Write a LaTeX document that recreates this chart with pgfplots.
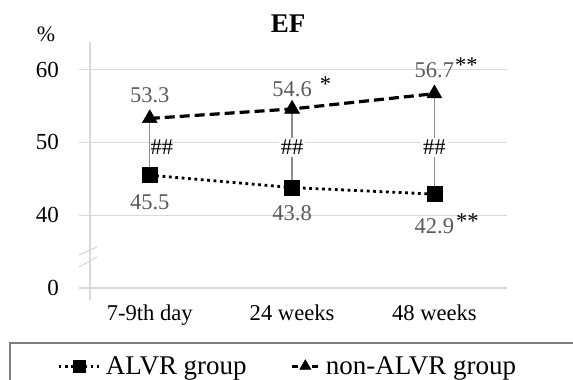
\documentclass[border=0pt]{standalone}
\usepackage{pgfplots}
\pgfplotsset{compat=1.18}
\usepackage{fontspec}
\setmainfont{Liberation Serif}
\definecolor{gridc}{HTML}{D9D9D9}
\definecolor{labc}{HTML}{595959}
\definecolor{connc}{HTML}{8C8C8C}
\definecolor{legc}{HTML}{7F7F7F}
\newcommand\dl{\fontsize{22.5}{22.5}\selectfont}
\pgfplotsset{
  legA/.style={legend image code/.code={\draw[mark repeat=2, mark phase=2, ##1, mark size=6pt] plot coordinates {(0pt,0pt) (21pt,0pt) (40pt,0pt)};}},
  legB/.style={legend image code/.code={\draw[mark repeat=2, mark phase=2, ##1, mark size=6.5pt, dash pattern=on 6pt off 14pt] plot coordinates {(0pt,0pt) (13pt,0pt) (26pt,0pt)};}},
}
\begin{document}
\begin{tikzpicture}[x=1pt,y=1pt]
\useasboundingbox (0,0) rectangle (573,380);
\begin{axis}[
  at={(90pt,92pt)}, anchor=south west,
  scale only axis, width=417pt, height=246pt,
  xmin=-0.42, xmax=2.51, ymin=30, ymax=63.8,
  clip=false,
  axis line style={draw=none},
  xtick={0,1,2}, xticklabels={7-9th day, 24 weeks, 48 weeks},
  xtick style={draw=none},
  ytick={30,40,50,60}, yticklabels={0,40,50,60},
  ytick style={draw=gridc, line width=1.2pt},
  ymajorgrids, grid style={draw=gridc, line width=1.2pt},
  tick align=outside, major tick length=11pt,
  ytick pos=left, xtick pos=bottom,
  /pgf/number format/assume math mode=true,
  yticklabel style={font=\fontsize{23}{23}\selectfont, text=black, anchor=east, inner sep=0pt, xshift=-20pt},
  xticklabel style={font=\fontsize{22.6}{22.6}\selectfont, text=black, anchor=base, yshift=-21pt},
  legend columns=2,
  legend style={at={(axis description cs:-0.0864,-0.318)}, anchor=west, draw=none, fill=none,
    font=\fontsize{27}{27}\selectfont,
    /tikz/every odd column/.append style={column sep=4pt},
    /tikz/every even column/.append style={column sep=42pt}},
]
\addplot[connc, line width=1.2pt, forget plot] coordinates {(0,45.5) (0,53.3)};
\addplot[connc, line width=1.2pt, forget plot] coordinates {(1,43.8) (1,54.6)};
\addplot[connc, line width=1.2pt, forget plot] coordinates {(2,42.9) (2,56.7)};
\addplot[black, line width=2.8pt, dash pattern=on 2.8pt off 3.6pt, mark=square*, mark size=7.5pt, mark options={solid, line width=0.5pt}, legA]
  coordinates {(0,45.5) (1,43.8) (2,42.9)};
\addlegendentry{ALVR group}
\addplot[black, line width=3.2pt, dash pattern=on 10pt off 5pt, mark=triangle*, mark size=8.6pt, mark options={solid, line width=0.5pt}, legB]
  coordinates {(0,53.3) (1,54.6) (2,56.7)};
\addlegendentry{non-ALVR group}
% data labels
\node[labc, font=\dl] at (axis cs:0,53.3) [yshift=23pt] {53.3};
\node[labc, font=\dl] at (axis cs:1,54.6) [yshift=22pt] {54.6\rlap{\color{black}\hspace{8pt}\raisebox{5pt}{*}}};
\node[labc, font=\dl] at (axis cs:2,56.7) [yshift=26pt] {56.7\rlap{\color{black}\hspace{1pt}\raisebox{5pt}{**}}};
\node[labc, font=\dl] at (axis cs:0,45.5) [yshift=-27pt] {45.5};
\node[labc, font=\dl] at (axis cs:1,43.8) [yshift=-26pt] {43.8};
\node[labc, font=\dl] at (axis cs:2,42.9) [yshift=-30pt] {42.9\rlap{\color{black}\hspace{2pt}\raisebox{5pt}{**}}};
% significance marks
\node[font=\dl, inner sep=1pt] at (axis cs:0,49.3) [xshift=12pt] {\#\#};
\node[font=\dl, fill=white, inner sep=2pt] at (axis cs:1,49.3) {\#\#};
\node[font=\dl, fill=white, inner sep=2pt] at (axis cs:2,49.3) {\#\#};
\end{axis}
% y axis line and break marks
\draw[gridc, line width=1.2pt] (90,80) -- (90,338);
\draw[gridc, line width=1.2pt] (79,125) -- (97,133);
\draw[gridc, line width=1.2pt] (79,113) -- (97,123);
% title and unit
\node[font=\bfseries\fontsize{27}{27}\selectfont] at (288,356.5) {EF};
\node[font=\fontsize{22}{22}\selectfont] at (46,345.5) {\%};
% legend frame
\draw[legc, line width=1.2pt] (10,37) rectangle (640,-60);
\end{tikzpicture}
\end{document}
